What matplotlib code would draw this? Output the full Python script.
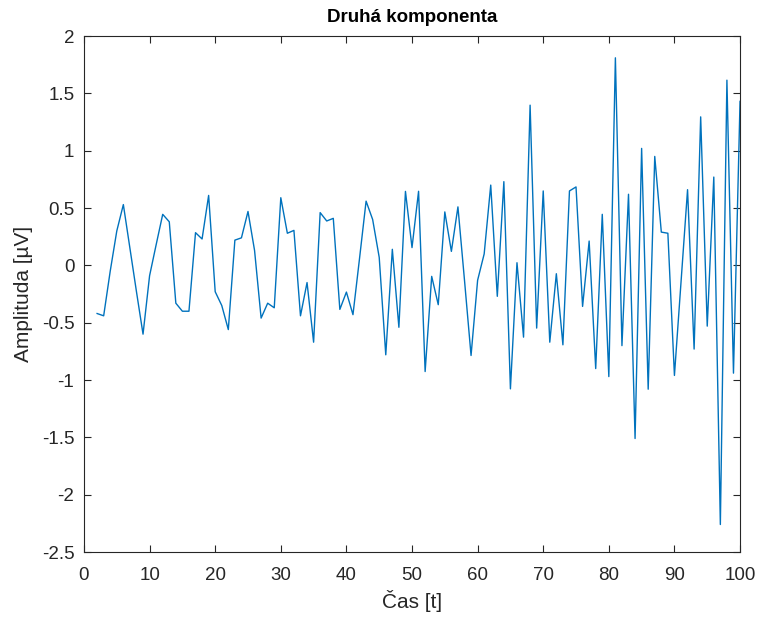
"""Druhá komponenta: MATLAB-style line plot of the second component."""
import matplotlib
matplotlib.use("Agg")

import matplotlib.pyplot as plt
import numpy as np
from matplotlib.ticker import FormatStrFormatter, MultipleLocator

_BLUE = "#0072BD"
_AXIS = "0.15"

t = np.arange(2, 101)
amplitude = [
    -0.42, -0.44, -0.05, 0.30, 0.53, 0.15, -0.23, -0.60, -0.09,   # 2-10
    0.18, 0.445, 0.38, -0.33, -0.40, -0.40, 0.285, 0.23, 0.61, -0.23,  # 11-20
    -0.35, -0.56, 0.22, 0.24, 0.47, 0.13, -0.46, -0.33, -0.37, 0.59,   # 21-30
    0.28, 0.305, -0.44, -0.15, -0.67, 0.46, 0.387, 0.41, -0.384, -0.233,  # 31-40
    -0.43, 0.06, 0.56, 0.40, 0.07, -0.78, 0.14, -0.54, 0.645, 0.155,   # 41-50
    0.646, -0.926, -0.096, -0.343, 0.466, 0.122, 0.51, -0.13, -0.786, -0.13,  # 51-60
    0.10, 0.70, -0.27, 0.73, -1.077, 0.023, -0.626, 1.397, -0.547, 0.649,  # 61-70
    -0.67, -0.073, -0.693, 0.649, 0.684, -0.358, 0.212, -0.90, 0.445, -0.97,  # 71-80
    1.81, -0.70, 0.62, -1.51, 1.02, -1.08, 0.95, 0.29, 0.28, -0.96,   # 81-90
    -0.15, 0.66, -0.73, 1.295, -0.53, 0.77, -2.26, 1.615, -0.94, 1.43,  # 91-100
]

plt.rcParams["font.family"] = ["Liberation Sans", "DejaVu Sans"]
plt.rcParams["axes.unicode_minus"] = False

fig = plt.figure(figsize=(7.58, 6.19), dpi=100)
ax = fig.add_axes([0.1108, 0.1082, 0.8655, 0.8336])
ax.plot(t, amplitude, color=_BLUE, lw=1.0)

ax.set_xlim(0, 100)
ax.set_ylim(-2.5, 2)
ax.xaxis.set_major_locator(MultipleLocator(10))
ax.yaxis.set_major_locator(MultipleLocator(0.5))
ax.yaxis.set_major_formatter(FormatStrFormatter("%g"))
ax.tick_params(direction="in", top=True, right=True, length=5, width=0.8,
               colors=_AXIS, labelsize=13.5)
ax.tick_params(axis="x", pad=11)
ax.tick_params(axis="y", pad=7)
for s in ax.spines.values():
    s.set_color(_AXIS)
    s.set_linewidth(0.8)

ax.set_xlabel("Čas [t]", fontsize=15, color=_AXIS, labelpad=4)
ax.set_ylabel("Amplituda [µV]", fontsize=15, color=_AXIS, labelpad=6)
ax.set_title("Druhá komponenta", fontsize=13.5, fontweight="bold", pad=10)

fig.savefig("out.png", dpi=100, facecolor="white")
